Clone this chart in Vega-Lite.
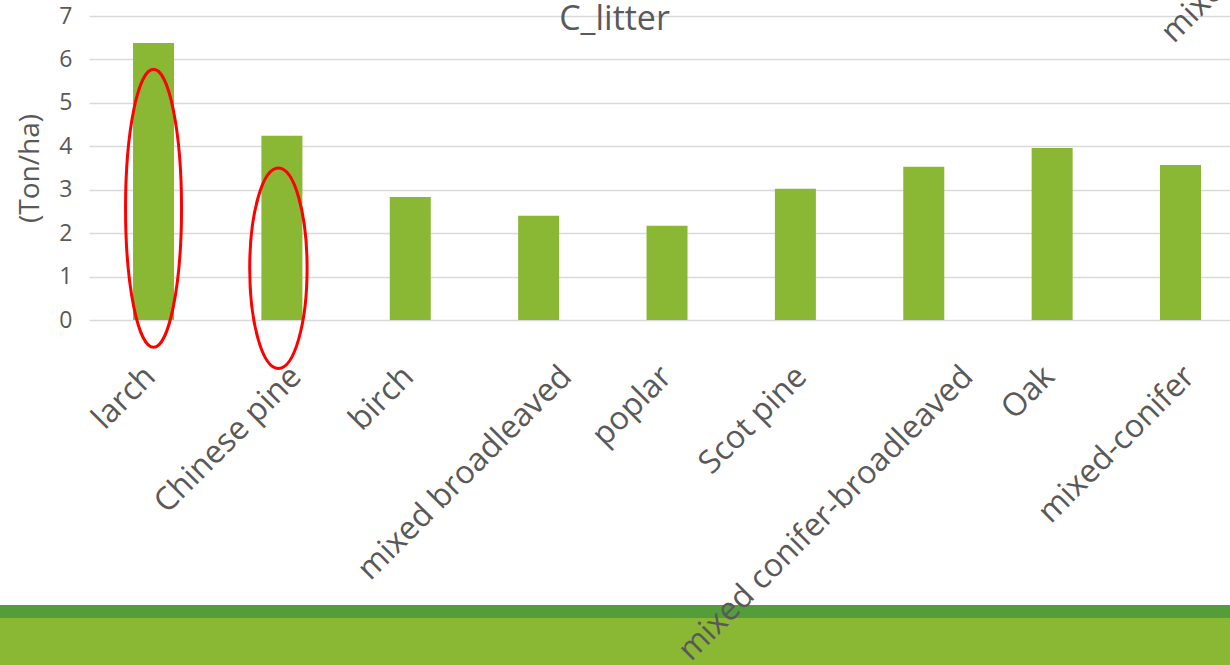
{
  "$schema": "https://vega.github.io/schema/vega-lite/v6.json",
  "autosize": "none",
  "width": 1141,
  "height": 304,
  "padding": {"left": 89, "top": 16, "right": 0, "bottom": 345},
  "background": "white",
  "title": {"text": "C_litter", "fontSize": 34, "font": "Open Sans", "fontWeight": "normal", "color": "#595959", "anchor": "middle", "offset": -16, "baseline": "alphabetic", "dx": -45, "dy": 73},
  "datasets": {
    "litter": [
      {"forest": "larch", "C": 6.38},
      {"forest": "Chinese pine", "C": 4.24},
      {"forest": "birch", "C": 2.83},
      {"forest": "mixed broadleaved", "C": 2.40},
      {"forest": "poplar", "C": 2.17},
      {"forest": "Scot pine", "C": 3.02},
      {"forest": "mixed conifer-broadleaved", "C": 3.53},
      {"forest": "Oak", "C": 3.96},
      {"forest": "mixed-conifer", "C": 3.57}
    ],
    "rings": [
      {"forest": "larch", "center": 2.572},
      {"forest": "Chinese pine", "center": 1.19}
    ],
    "stray": [
      {"forest": "mixed-conifer", "level": 6.85, "label": "mixe"}
    ],
    "footer": [
      {"part": "dark", "x0": -0.08, "x1": 1.0, "y0": -6.56, "y1": -6.86},
      {"part": "light", "x0": -0.08, "x1": 1.0, "y0": -6.86, "y1": -8.5}
    ]
  },
  "layer": [
    {
      "data": {"name": "footer"},
      "mark": {"type": "rect"},
      "encoding": {
        "x": {"field": "x0", "type": "quantitative", "scale": {"domain": [0, 1], "nice": false, "zero": false}, "axis": null},
        "x2": {"field": "x1"},
        "y": {"field": "y0", "type": "quantitative", "title": "(Ton/ha)", "scale": {"domain": [0, 7], "nice": false}},
        "y2": {"field": "y1"},
        "color": {"field": "part", "type": "nominal", "scale": {"domain": ["dark", "light"], "range": ["#539E3A", "#8BB834"]}, "legend": null}
      }
    },
    {
      "layer": [
        {
          "data": {"name": "litter"},
          "mark": {"type": "bar", "color": "#8BB834"},
          "encoding": {
            "x": {
              "field": "forest", "type": "nominal", "sort": null, "title": null,
              "scale": {
                "domain": ["larch", "Chinese pine", "birch", "mixed broadleaved", "poplar", "Scot pine", "mixed conifer-broadleaved", "Oak", "mixed-conifer"],
                "paddingInner": 0.6806, "paddingOuter": 0.2844, "align": 0.603
              },
              "axis": {
                "domain": false, "ticks": false, "tickSize": 0,
                "labelAngle": -45, "labelAlign": "right", "labelBaseline": "middle",
                "labelFontSize": 32, "labelFont": "Open Sans", "labelColor": "#595959",
                "labelPadding": 51, "labelLimit": 1000, "labelOverlap": false, "labelBound": false,
                "zindex": 1,
                "labelOffset": {"expr": "datum.value == 'larch' ? -3.5 : datum.value == 'Chinese pine' ? 14 : datum.value == 'birch' ? -2 : datum.value == 'mixed broadleaved' ? 27.5 : datum.value == 'poplar' ? -0.5 : datum.value == 'Scot pine' ? 6 : datum.value == 'mixed conifer-broadleaved' ? 44 : datum.value == 'Oak' ? -3 : 9"}
              }
            },
            "y": {"field": "C", "type": "quantitative", "title": "(Ton/ha)", "scale": {"domain": [0, 7], "nice": false}, "axis": {"values": [0, 1, 2, 3, 4, 5, 6, 7]}}
          }
        },
        {
          "data": {"name": "rings"},
          "transform": [{"filter": "datum.forest == 'larch'"}],
          "mark": {"type": "point", "shape": "M0,-1C0.1112,-1 0.2014,-0.5523 0.2014,0C0.2014,0.5523 0.1112,1 0,1C-0.1112,1 -0.2014,0.5523 -0.2014,0C-0.2014,-0.5523 -0.1112,-1 0,-1Z", "filled": false, "stroke": "#FF0000", "strokeWidth": 3, "opacity": 1, "size": 77284},
          "encoding": {
            "x": {"field": "forest", "type": "nominal", "title": null},
            "y": {"field": "center", "type": "quantitative", "title": "(Ton/ha)"}
          }
        },
        {
          "data": {"name": "rings"},
          "transform": [{"filter": "datum.forest == 'Chinese pine'"}],
          "mark": {"type": "point", "shape": "M0,-1C0.1582,-1 0.2864,-0.5523 0.2864,0C0.2864,0.5523 0.1582,1 0,1C-0.1582,1 -0.2864,0.5523 -0.2864,0C-0.2864,-0.5523 -0.1582,-1 0,-1Z", "filled": false, "stroke": "#FF0000", "strokeWidth": 3, "opacity": 1, "size": 40160, "xOffset": -3.5},
          "encoding": {
            "x": {"field": "forest", "type": "nominal", "title": null},
            "y": {"field": "center", "type": "quantitative", "title": "(Ton/ha)"}
          }
        },
        {
          "data": {"name": "stray"},
          "mark": {"type": "text", "angle": 315, "align": "left", "baseline": "alphabetic", "dx": -20, "dy": 10.6, "fontSize": 32, "font": "Open Sans", "color": "#595959"},
          "encoding": {
            "x": {"field": "forest", "type": "nominal", "title": null},
            "y": {"field": "level", "type": "quantitative", "title": "(Ton/ha)"},
            "text": {"field": "label"}
          }
        }
      ]
    }
  ],
  "resolve": {"scale": {"x": "independent"}, "axis": {"x": "independent"}},
  "config": {
    "view": {"stroke": null},
    "font": "Open Sans",
    "axisY": {
      "domain": false, "ticks": false, "tickSize": 0,
      "gridColor": "#D9D9D9", "gridWidth": 1.5,
      "labelFontSize": 23, "labelFont": "Open Sans", "labelColor": "#595959", "labelPadding": 17,
      "titleFontSize": 28, "titleFont": "Open Sans", "titleFontWeight": "normal", "titleColor": "#595959", "titlePadding": 14
    }
  }
}
